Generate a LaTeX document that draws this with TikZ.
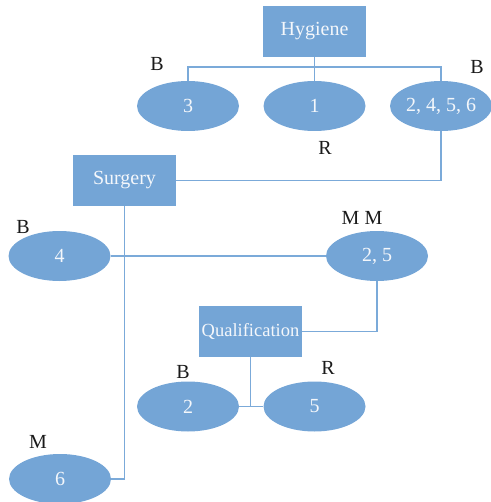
\documentclass[tikz,border=0pt]{standalone}
\usepackage{fontspec}
\setmainfont{Liberation Serif}
\usetikzlibrary{shapes.geometric}
\definecolor{boxblue}{HTML}{74A5D6}
\definecolor{lineblue}{HTML}{7BAAD9}
\definecolor{txtw}{HTML}{F4F7FB}
\definecolor{lbl}{HTML}{1A1A1A}
\tikzset{
  rbox/.style={rectangle, fill=boxblue, draw=none, minimum width=103pt, minimum height=51pt, inner sep=0pt, text=txtw, font=\fontsize{20}{23}\selectfont},
  ell/.style={ellipse, fill=boxblue, draw=none, minimum width=102pt, minimum height=50pt, inner sep=0pt, text=txtw, font=\fontsize{20}{23}\selectfont},
  conn/.style={draw=lineblue, line width=1.2pt},
  lab/.style={text=lbl, inner sep=0pt, font=\fontsize{20}{23}\selectfont}
}
\begin{document}
\begin{tikzpicture}[x=1pt,y=-1pt]
\useasboundingbox (0,0) rectangle (490,502);
% nodes
\node[rbox] (hyg) at (314.5,31.5) {Hygiene};
\node[ell] (e3) at (188,106) {3};
\node[ell] (e1) at (314.5,106) {1};
\node[ell] (e2456) at (441,106) {2, 4, 5, 6};
\node[rbox] (surg) at (124.5,180.5) {Surgery};
\node[ell] (e4) at (59.5,256) {4};
\node[ell] (e25) at (377,256) {2, 5};
\node[rbox, font=\fontsize{18.5}{21}\selectfont] (qual) at (250.5,331.5) {Qualification};
\node[ell] (e2) at (188,406.5) {2};
\node[ell] (e5) at (314.5,406.5) {5};
\node[ell] (e6) at (60,479) {6};
% labels
\node[lab] (lB1) at (157,64) {B};
\node[lab] (lB2) at (477,67) {B};
\node[lab] (lR1) at (325,148) {R};
\node[lab] (lB3) at (23,227) {B};
\node[lab] (lMM) at (362,218) {M M};
\node[lab] (lB4) at (183,372) {B};
\node[lab] (lR2) at (328,368) {R};
\node[lab] (lM) at (38,442) {M};
% connectors
\coordinate (hj) at (314.5,67);
\draw[conn] (hyg.south) -- (e1.north);
\draw[conn] (e3.north) |- (hj) -| (e2456.north);
\draw[conn] (e2456.south) |- (surg.east);
\draw[conn] (surg.south) |- (e6.east);
\draw[conn] (e4.east) -- (e25.west);
\draw[conn] (e25.south) |- (qual.east);
\draw[conn] (qual.south) -- (qual.south |- e2.east);
\draw[conn] (e2.east) -- (e5.west);
\end{tikzpicture}
\end{document}
